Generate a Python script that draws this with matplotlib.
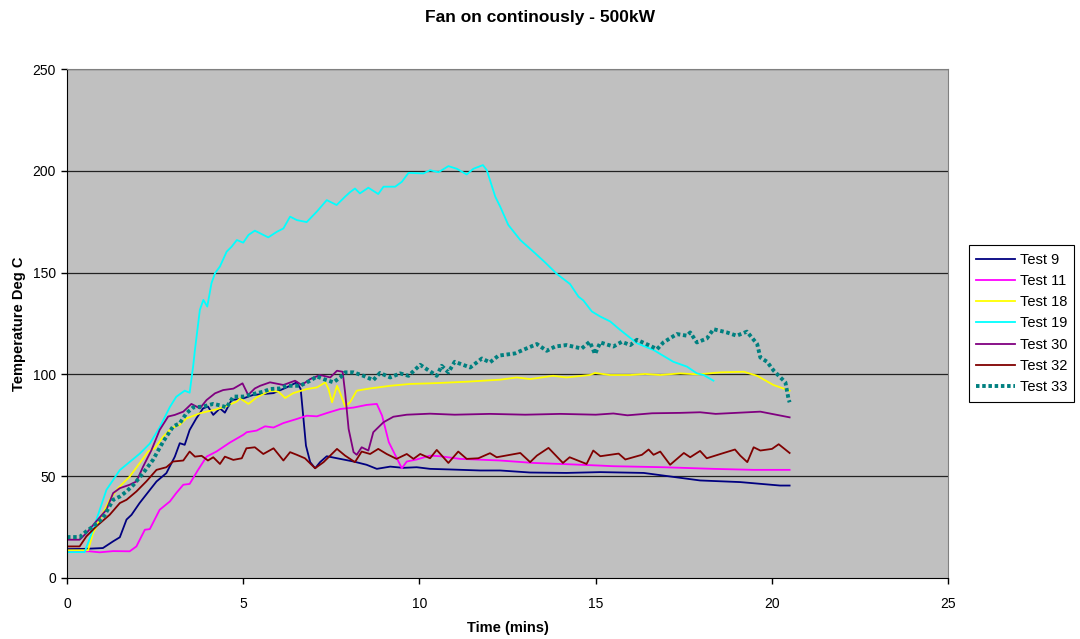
import matplotlib
matplotlib.use("Agg")
import matplotlib.pyplot as plt

plt.rcParams['font.family'] = ['Liberation Sans', 'DejaVu Sans']

# time (mins) and temperature (deg C)
t9 = [0, 0.5, 1.02, 1.31, 1.5, 1.69, 1.83, 2.06, 2.25, 2.54, 2.82, 3.06, 3.2, 3.34, 3.48, 3.67, 3.86,
      4.0, 4.15, 4.34, 4.48, 4.67, 5.0, 5.28, 5.86, 6.23, 6.52, 6.63, 6.71, 6.78, 6.9, 7.04, 7.18,
      7.37, 7.75, 8.13, 8.5, 8.79, 9.17, 9.54, 9.92, 10.3, 10.87, 11.72, 12.29, 13.14, 14.17, 15.13,
      16.36, 16.92, 17.96, 19.1, 20.23, 20.5]
T9 = [14.2, 14.3, 14.7, 18, 20, 28.7, 31, 36.8, 41, 47.4, 51.5, 59.6, 66.2, 65.4, 72.7, 78.4, 83.3,
      84.2, 80.1, 83.3, 81.2, 87.4, 88.2, 89.9, 90.8, 93.6, 96.1, 92.8, 78.1, 65, 56.9, 53.9, 56.9,
      59.8, 58.5, 57.2, 55.6, 53.6, 54.7, 54.1, 54.4, 53.6, 53.3, 52.8, 52.8, 51.8, 51.6, 52,
      51.6, 50.3, 47.9, 47.1, 45.4, 45.4]

t11 = [0, 0.64, 0.93, 1.31, 1.78, 1.97, 2.21, 2.35, 2.63, 2.92, 3.1, 3.3, 3.48, 3.72, 3.96, 4.24,
       4.62, 5.0, 5.1, 5.38, 5.62, 5.86, 6.14, 6.52, 6.8, 7.09, 7.37, 7.75, 8.13, 8.5, 8.79, 8.94,
       9.13, 9.32, 9.5, 9.64, 9.92, 10.3, 10.58, 11.15, 12.29, 13.24, 14.17, 15.13, 15.5, 16.92,
       18.34, 19.48, 20.5]
T11 = [13.1, 13.1, 12.6, 13.2, 13.1, 15.5, 23.7, 24, 33.5, 37.6, 41.7, 45.8, 46.2, 53.1, 59.6, 62.1,
       66.5, 70.3, 71.6, 72.4, 74.5, 73.9, 76.1, 78.1, 79.7, 79.4, 81, 83, 83.7, 85, 85.5, 79.7,
       66.7, 60.1, 53.9, 57.2, 58.2, 60.1, 59.8, 58.5, 57.7, 56.5, 55.9, 55.2, 54.9, 54.4,
       53.6, 53.1, 53.1]

t18 = [0, 0.6, 0.74, 0.93, 1.21, 1.45, 1.78, 2.11, 2.3, 2.49, 2.73, 2.96, 3.2, 3.39, 3.58, 3.77, 3.96,
       4.24, 4.53, 4.81, 4.91, 5.15, 5.38, 5.76, 6.0, 6.19, 6.42, 6.8, 7.09, 7.33, 7.42, 7.52, 7.66,
       7.75, 7.89, 8.03, 8.22, 8.6, 9.17, 9.73, 10.3, 10.58, 11.34, 12.29, 12.76, 13.14, 13.79,
       14.17, 14.83, 14.98, 15.4, 15.98, 16.4, 16.83, 17.4, 17.9, 18.54, 19.2, 19.58, 20.04, 20.5]
T18 = [13.6, 13.6, 22, 28.6, 38.4, 44.1, 49.8, 57.5, 62.1, 63.7, 69.4, 73.5, 75.2, 78.4, 79.6, 80.9, 81.7,
       82.8, 84.5, 86.6, 88.2, 85.5, 88.7, 92, 91.5, 88.4, 90.8, 92.8, 93.6, 96.1, 92.8, 86.3, 94.4,
       90.8, 84.3, 86.3, 92, 93.1, 94.4, 95.3, 95.6, 95.8, 96.4, 97.4, 98.5, 97.7, 99.3,
       98.5, 99.7, 100.7, 99.7, 99.7, 100.2, 99.7, 100.5, 100, 101, 101.3, 99.3, 94.8, 92]

t19 = [0, 0.5, 0.74, 1.12, 1.5, 2.06, 2.35, 2.63, 2.92, 3.1, 3.34, 3.48, 3.58, 3.63, 3.77, 3.87, 3.98,
       4.1, 4.2, 4.34, 4.53, 4.67, 4.82, 5.0, 5.15, 5.33, 5.71, 5.95, 6.14, 6.33, 6.52, 6.8, 7.09,
       7.37, 7.65, 7.89, 8.03, 8.17, 8.31, 8.55, 8.83, 8.98, 9.31, 9.5, 9.69, 10.11, 10.3, 10.54,
       10.82, 11.06, 11.34, 11.53, 11.8, 11.91, 12.15, 12.29, 12.52, 12.86, 13.23, 13.57, 13.9,
       14.27, 14.51, 14.65, 14.89, 15.13, 15.41, 15.69, 16.17, 16.64, 17.2, 17.59, 17.87, 18.06, 18.34]
T19 = [12.7, 12.7, 23.7, 43.3, 53, 61, 66, 74, 84, 89, 92, 91, 104, 112, 131.7, 136.6, 133.3,
       144.8, 149.7, 153, 160.3, 162.7, 166, 164.7, 168.5, 170.6, 167.3, 170, 171.7, 177.5, 175.8, 174.8, 180,
       185.6, 183.2, 187.3, 189.5, 191.3, 188.9, 191.7, 188.6, 192.2, 192.2, 194.6, 199, 198.7, 200.3, 199.3,
       202.3, 201, 198.2, 201, 202.8, 200.3, 187.3, 182.4, 173.4, 166, 160.3, 154.9, 149.3,
       144.4, 138.2, 136.3, 130.9, 128.4, 126, 121.9, 115.3, 112, 106.2, 103.8, 100.5, 99.7, 96.9]

t30 = [0, 0.36, 0.55, 0.83, 1.12, 1.31, 1.5, 1.78, 1.97, 2.16, 2.4, 2.63, 2.87, 3.06, 3.3, 3.53, 3.77,
       3.96, 4.2, 4.43, 4.72, 4.98, 5.14, 5.33, 5.48, 5.76, 6.14, 6.47, 6.66, 6.9, 7.18, 7.47, 7.66,
       7.82, 7.89, 7.99, 8.13, 8.22, 8.36, 8.55, 8.69, 8.98, 9.26, 9.64, 10.3, 11.0, 12.0, 13.0,
       14.0, 15.0, 15.5, 15.9, 16.6, 17.4, 17.96, 18.4, 19.67, 20.5]
T30 = [18.8, 18.8, 22, 27.8, 33.5, 41.7, 44.1, 45.8, 47.4, 54.7, 62.9, 72.7, 79.3, 80.1, 81.7, 85.5, 83.3,
       87.4, 90.7, 92.3, 93, 95.6, 89.9, 93.1, 94.4, 96.1, 94.8, 96.9, 94.8, 97.7, 99.7, 98.5, 101.8,
       101.3, 91.2, 73.2, 61.8, 60.5, 64.2, 62.6, 71.6, 76.5, 79.2, 80.2, 80.7, 80.2, 80.6, 80.2,
       80.6, 80.2, 80.8, 79.9, 80.9, 81.1, 81.4, 80.6, 81.7, 78.9]

t32 = [0, 0.36, 0.55, 0.83, 1.21, 1.5, 1.69, 1.97, 2.25, 2.54, 2.82, 3.01, 3.3, 3.48, 3.63, 3.82, 4.0,
       4.15, 4.34, 4.48, 4.72, 4.96, 5.09, 5.33, 5.57, 5.86, 6.14, 6.33, 6.52, 6.75, 7.04, 7.28, 7.66,
       7.89, 8.17, 8.36, 8.6, 8.83, 9.07, 9.35, 9.64, 9.83, 10.02, 10.3, 10.49, 10.82, 11.1, 11.34,
       11.67, 12.0, 12.19, 12.86, 13.14, 13.33, 13.66, 14.07, 14.26, 14.74, 14.93, 15.13, 15.65,
       15.84, 16.31, 16.5, 16.64, 16.83, 17.11, 17.5, 17.68, 17.96, 18.15, 18.63, 18.95, 19.1, 19.3,
       19.48, 19.67, 20.0, 20.19, 20.5]
T32 = [15.5, 15.5, 20.4, 25.3, 31, 36.8, 38.4, 42.5, 47.4, 53.1, 54.4, 57.2, 57.7, 62.1, 59.6, 60, 57.7,
       59.3, 56, 59.6, 58, 58.8, 63.7, 64.2, 60.9, 63.7, 57.7, 61.8, 60.5, 58.8, 53.9, 56.9, 63.4,
       60.1, 56.9, 62.1, 60.9, 63.4, 60.9, 58.5, 60.9, 58.5, 60.9, 58.8, 62.9, 56.5, 62.1, 58.5,
       58.8, 61.3, 59.3, 61.4, 56.9, 60.1, 63.9, 56.5, 59.3, 56, 62.6, 59.8, 61.1,
       58.2, 60.5, 63.1, 60.5, 62.1, 55.6, 61.4, 59.3, 62.4, 58.8, 61.4, 63.1, 60.1, 56.9,
       64.2, 62.6, 63.4, 65.7, 61.4]

t33 = [0, 0.36, 0.55, 0.74, 1.02, 1.31, 1.5, 1.69, 1.89, 2.16, 2.44, 2.73, 3.01, 3.2, 3.39, 3.58, 3.86,
       4.15, 4.34, 4.53, 4.72, 5.0, 5.29, 5.57, 5.76, 6.04, 6.23, 6.61, 6.9, 7.09, 7.28, 7.56, 7.75,
       7.89, 8.13, 8.41, 8.69, 8.88, 9.17, 9.45, 9.69, 10.02, 10.49, 10.63, 10.82, 11.0, 11.44,
       11.77, 12.0, 12.24, 12.71, 12.99, 13.33, 13.61, 13.85, 14.17, 14.6, 14.83, 14.98, 15.13,
       15.5, 15.74, 15.98, 16.17, 16.55, 16.74, 16.92, 17.3, 17.59, 17.68, 17.87, 18.15, 18.34,
       18.72, 19.0, 19.29, 19.58, 19.67, 19.86, 20.05, 20.24, 20.38, 20.47, 20.5]
T33 = [20.1, 20.1, 22.9, 25.3, 29.4, 38.4, 40, 42.5, 45.8, 51.5, 58, 67, 74.4, 76, 80.9, 83.8, 84.2,
       85.5, 84.8, 83.8, 89.1, 89.1, 90.4, 91.5, 92.8, 93.1, 94.4, 94.4, 96.9, 99, 97.7, 96.1, 98.5,
       101, 101, 99.3, 97.2, 100.7, 98.5, 100.5, 99.3, 104.7, 99.3, 104.2, 101, 106.2, 103.4,
       107.8, 105.9, 109.2, 110.3, 112.4, 114.9, 111.6, 113.7, 114.4, 112.7, 116, 110, 115.7,
       113.7, 116, 114.4, 117, 114, 112.4, 115.7, 119.8, 119, 120.6, 115.7, 117.6, 122.2,
       120.6, 119, 121, 114.9, 108.3, 106.2, 101.8, 98.5, 96.1, 87.9, 86.3]

series = [
    ("Test 9", t9, T9, "#000080"),
    ("Test 11", t11, T11, "#FF00FF"),
    ("Test 18", t18, T18, "#FFFF00"),
    ("Test 19", t19, T19, "#00FFFF"),
    ("Test 30", t30, T30, "#800080"),
    ("Test 32", t32, T32, "#800000"),
]

fig = plt.figure(figsize=(10.8, 6.39), dpi=100)
ax = fig.add_axes([0.062, 0.0955, 0.816, 0.7965])
ax.set_facecolor("#C0C0C0")

for label, tx, ty, col in series:
    ax.plot(tx, ty, color=col, lw=1.3, label=label)
ax.plot(t33, T33, color="#008080", lw=2.8, linestyle=(0, (0.9, 0.7)), label="Test 33")

ax.set_xlim(0, 25)
ax.set_ylim(0, 250)
ax.set_xticks(range(0, 26, 5))
ax.set_yticks(range(0, 251, 50))
ax.tick_params(direction="out", length=4, width=1, labelsize=10, pad=4)
ax.tick_params(axis="x", pad=10)
for y in (50, 100, 150, 200, 250):
    ax.axhline(y, color="#222222", lw=0.9, zorder=0.5)
ax.spines["left"].set_color("black")
ax.spines["bottom"].set_color("black")
ax.spines["top"].set_color("#808080")
ax.spines["right"].set_color("#808080")

ax.set_xlabel("Time (mins)", fontsize=10.5, fontweight="bold", labelpad=7)
ax.set_ylabel("Temperature Deg C", fontsize=10.5, fontweight="bold", labelpad=5)
fig.suptitle("Fan on continously - 500kW", fontsize=12.5, fontweight="bold", y=0.985)

leg = ax.legend(loc="center left", bbox_to_anchor=(1.023, 0.5), fontsize=10.5, frameon=True,
                fancybox=False, edgecolor="black", framealpha=1, handlelength=2.7,
                labelspacing=0.5, borderpad=0.5, handletextpad=0.3, borderaxespad=0)
leg.get_frame().set_linewidth(0.8)

fig.savefig("out.png", dpi=100)
